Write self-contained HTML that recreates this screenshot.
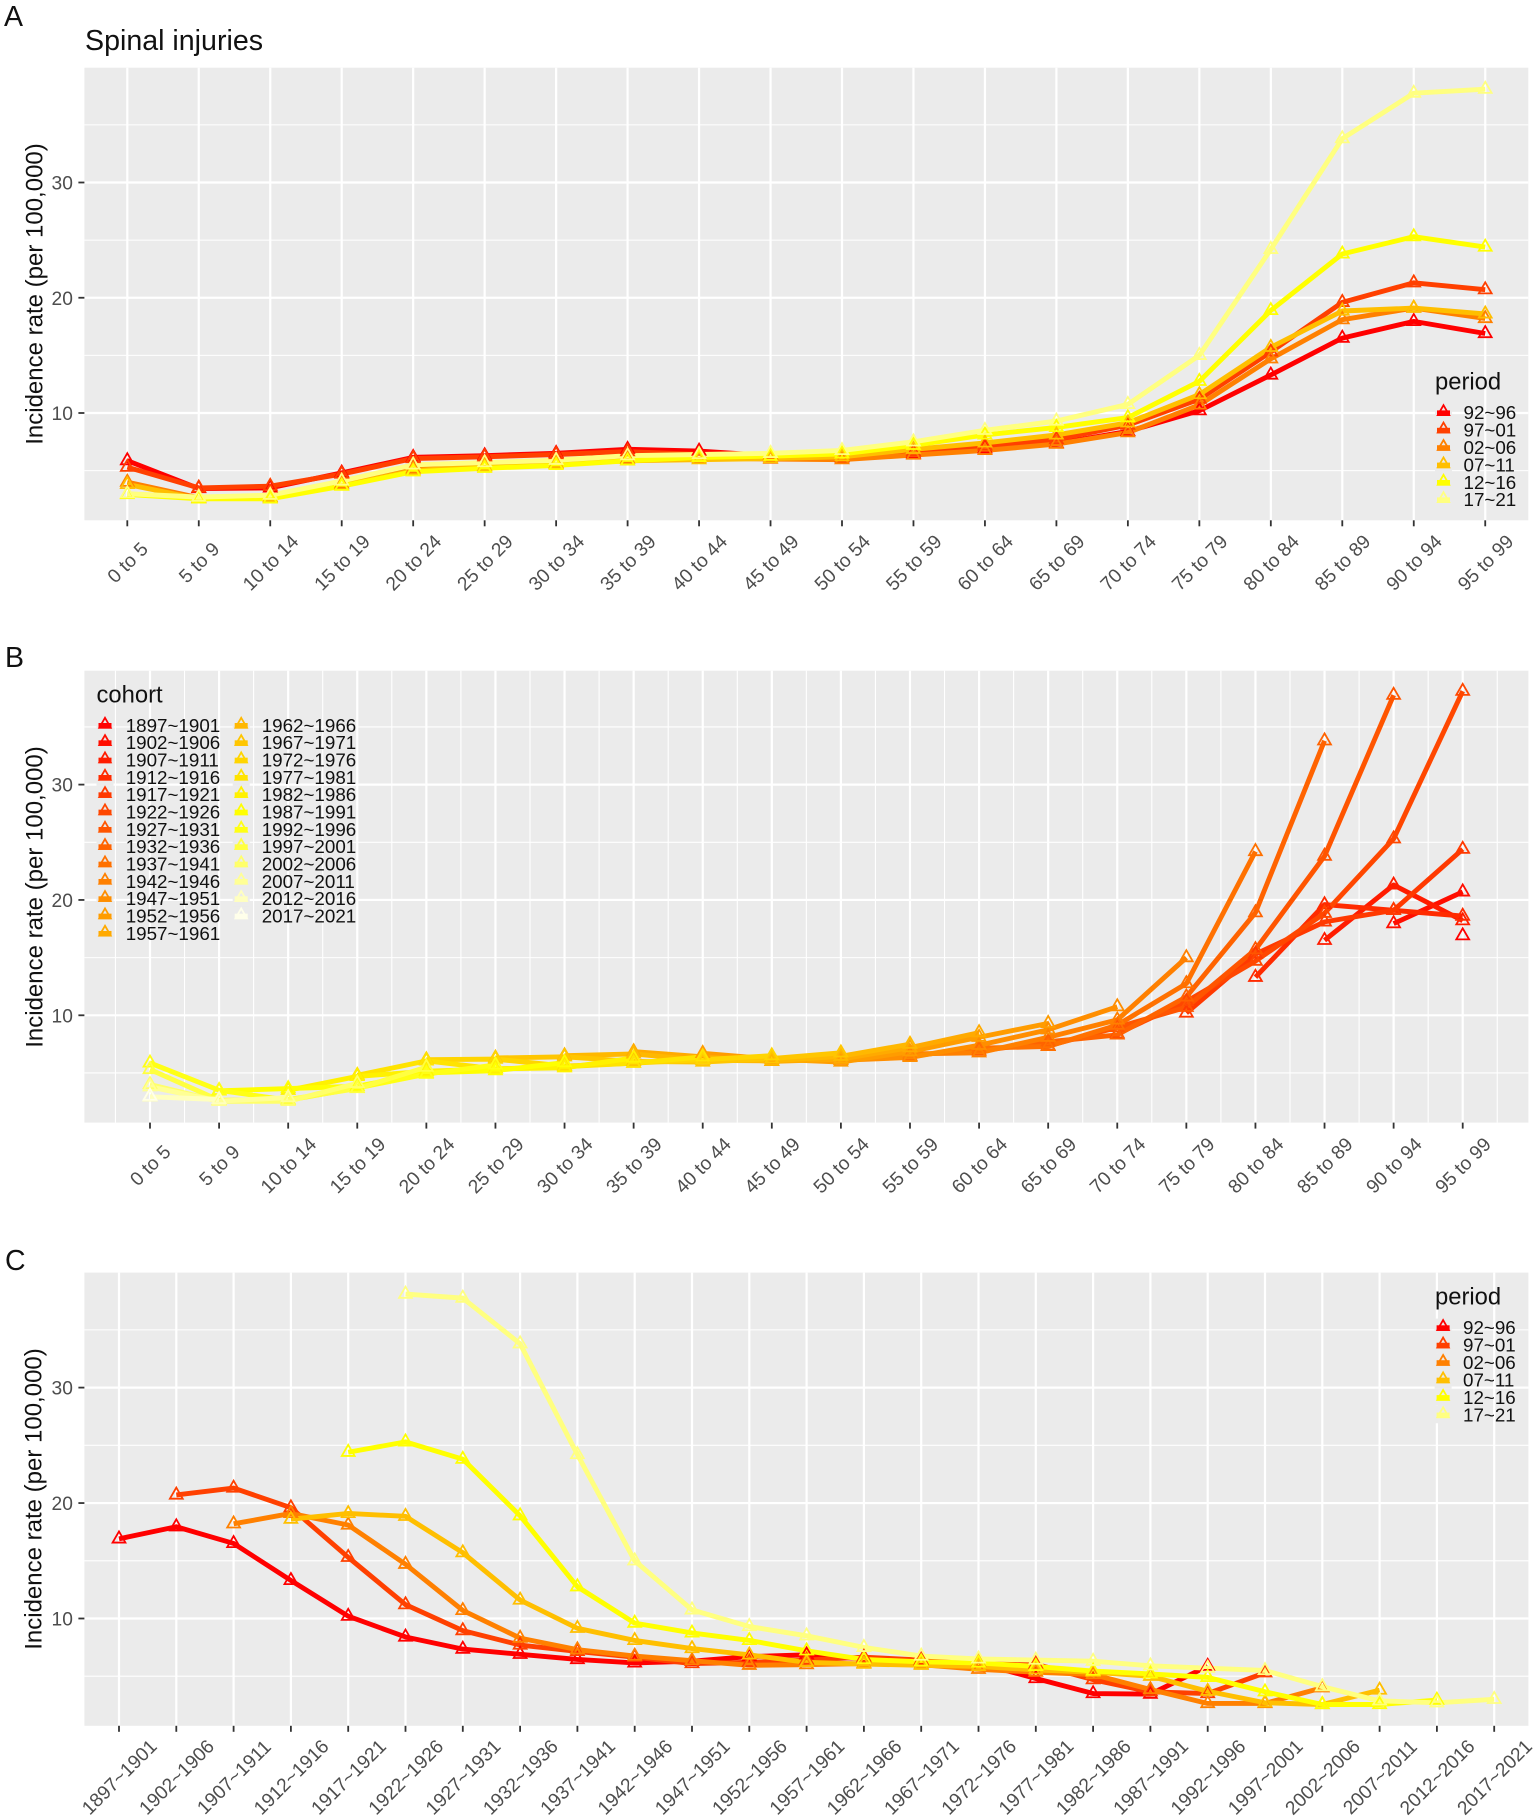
<!DOCTYPE html>
<html lang="en">
<head>
<meta charset="utf-8">
<title>Spinal injuries incidence rate</title>
<style>
html,body{margin:0;padding:0;background:#fff;width:1535px;height:1820px;overflow:hidden}
svg{display:block}
text{font-family:"Liberation Sans",Arial,sans-serif}
</style>
</head>
<body>
<svg id="figure" xmlns="http://www.w3.org/2000/svg" width="1535" height="1820" viewBox="0 0 1535 1820">
  <rect x="0" y="0" width="1535" height="1820" fill="#fff"/>
  <g id="panel-a"></g>
  <g id="panel-b"></g>
  <g id="panel-c"></g>
  <text x="4" y="26" font-size="28.5" fill="#111">A</text>
  <text x="5" y="667" font-size="28.5" fill="#111">B</text>
  <text x="5" y="1270" font-size="28.5" fill="#111">C</text>
  <text x="85" y="50" font-size="28.6" fill="#111">Spinal injuries</text>
  <text transform="translate(42.7,294) rotate(-90)" text-anchor="middle" font-size="24" fill="#111">Incidence rate (per 100,000)</text>
  <text transform="translate(42.7,897) rotate(-90)" text-anchor="middle" font-size="24" fill="#111">Incidence rate (per 100,000)</text>
  <text transform="translate(41.7,1499) rotate(-90)" text-anchor="middle" font-size="24" fill="#111">Incidence rate (per 100,000)</text>
  <text x="1435" y="389.5" font-size="23.8" fill="#111">period</text>
  <text x="96.5" y="702.5" font-size="23.8" fill="#111">cohort</text>
  <text x="1435" y="1304.7" font-size="23.8" fill="#111">period</text>
</svg>
<script>
// ---- Data (incidence rate per 100,000) ----
const ageGroups = ["0 to 5","5 to 9","10 to 14","15 to 19","20 to 24","25 to 29","30 to 34","35 to 39","40 to 44","45 to 49","50 to 54","55 to 59","60 to 64","65 to 69","70 to 74","75 to 79","80 to 84","85 to 89","90 to 94","95 to 99"];
const cohortLabels = ["1897~1901","1902~1906","1907~1911","1912~1916","1917~1921","1922~1926","1927~1931","1932~1936","1937~1941","1942~1946","1947~1951","1952~1956","1957~1961","1962~1966","1967~1971","1972~1976","1977~1981","1982~1986","1987~1991","1992~1996","1997~2001","2002~2006","2007~2011","2012~2016","2017~2021"];
const periodLabels = ["92~96","97~01","02~06","07~11","12~16","17~21"];
const yTickLabels = [10,20,30];
const yMinorBreaks = [5,15,25,35];
const rates9296 = [5.87,3.45,3.5,4.8,6.15,6.3,6.5,6.85,6.7,6.3,6.15,6.45,6.9,7.35,8.4,10.2,13.3,16.5,17.95,16.9];
const rates9701 = [5.3,3.5,3.65,4.7,6.05,6.2,6.4,6.65,6.4,6.2,6.1,6.65,7.15,7.7,8.95,11.2,15.3,19.6,21.3,20.7];
const rates0206 = [4.0,2.64,2.64,3.85,5.15,5.35,5.6,6.0,6.1,6.0,5.95,6.35,6.75,7.3,8.3,10.7,14.7,18.1,19.1,18.2];
const rates0711 = [3.8,2.55,2.7,3.7,5.0,5.35,5.55,5.85,5.95,6.05,6.2,6.85,7.4,8.1,9.15,11.6,15.7,18.85,19.1,18.6];
const rates1216 = [2.93,2.55,2.55,3.65,4.9,5.2,5.45,5.85,6.15,6.25,6.45,7.2,8.1,8.75,9.6,12.75,18.9,23.8,25.3,24.4];
const rates1721 = [3.0,2.7,2.87,4.1,5.5,5.7,5.9,6.3,6.4,6.5,6.75,7.5,8.5,9.3,10.75,15.0,24.2,33.8,37.75,38.1];

const periodSeries = [rates9296,rates9701,rates0206,rates0711,rates1216,rates1721];
const periodColors = ["#FF0000","#FF4000","#FF8000","#FFBF00","#FFFF00","#FFFF80"];

// heat.colors(25) ramp for the cohorts
function cohortColor(i){
  const hex = v => Math.round(v).toString(16).padStart(2,'0').toUpperCase();
  if(i < 19) return '#FF' + hex(255*i/18) + '00';
  const sat = 11/12 - (i-19)*(10/12)/5;
  return '#FFFF' + hex(255*(1-sat));
}

const NS = 'http://www.w3.org/2000/svg';
function mk(tag, attrs, parent){
  const el = document.createElementNS(NS, tag);
  for(const k in attrs) el.setAttribute(k, attrs[k]);
  parent.appendChild(el);
  return el;
}
function slug(s){ return String(s).replace(/[^0-9a-zA-Z]+/g,'-'); }

const LINE_W = 4.9, TRI_R = 7.4, TRI_SW = 1.8;

function trianglePoints(x,y,r){
  const h = r*Math.sqrt(3)/2;
  return [[x,y-r],[x+h,y+r/2],[x-h,y+r/2]].map(p=>p[0].toFixed(2)+','+p[1].toFixed(2)).join(' ');
}

function makeAxes(cfg){
  const k = (cfg.y10-cfg.y30)/20;
  cfg.xScale = i => cfg.x0 + i*cfg.dx;
  cfg.yScale = v => cfg.y10 - (v-10)*k;
  return cfg;
}

function drawFrame(cfg, root, categories){
  const bg = mk('rect',{x:cfg.left,y:cfg.top,width:cfg.right-cfg.left,height:cfg.bottom-cfg.top,fill:'#EBEBEB'},root);
  
  
  yMinorBreaks.forEach(v=>{
    const g = mk('line',{x1:cfg.left,x2:cfg.right,y1:cfg.yScale(v),y2:cfg.yScale(v),stroke:'#fff','stroke-width':1.1},root);
    
    
  });
  if(cfg.minorX){
    for(let i=-0.5;i<categories.length;i++){
      const g = mk('line',{x1:cfg.xScale(i),x2:cfg.xScale(i),y1:cfg.top,y2:cfg.bottom,stroke:'#fff','stroke-width':1.1},root);
      
      
    }
  }
  yTickLabels.forEach(v=>{
    const y = cfg.yScale(v);
    const g = mk('line',{x1:cfg.left,x2:cfg.right,y1:y,y2:y,stroke:'#fff','stroke-width':2.2},root);
    
    
    const t = mk('line',{x1:cfg.left-6,x2:cfg.left,y1:y,y2:y,stroke:'#333','stroke-width':1.8},root);
    
    
    const lab = mk('text',{x:cfg.left-11.5,y:y+7,'text-anchor':'end','font-size':19.2,fill:'#4D4D4D'},root);
    lab.textContent = v;
    
    
  });
  categories.forEach((c,i)=>{
    const x = cfg.xScale(i);
    const g = mk('line',{x1:x,x2:x,y1:cfg.top,y2:cfg.bottom,stroke:'#fff','stroke-width':2.2},root);
    
    
    const t = mk('line',{x1:x,x2:x,y1:cfg.bottom,y2:cfg.bottom+6,stroke:'#333','stroke-width':1.8},root);
    
    
    const lab = mk('text',{transform:'translate('+x.toFixed(2)+','+(cfg.bottom+cfg.labelDy)+') rotate(-45)','text-anchor':'middle','font-size':19.2,fill:'#4D4D4D',dy:'.36em'},root);
    lab.textContent = c;
    
    
  });
}

// seriesList: [{name,color,pts:[[catIndex,value],...]}]
function drawSeries(cfg, root, seriesList){
  seriesList.forEach(s=>{
    if(s.pts.length<2) return;
    const d = s.pts.map(p=>cfg.xScale(p[0]).toFixed(2)+','+cfg.yScale(p[1]).toFixed(2)).join(' ');
    const l = mk('polyline',{points:d,fill:'none',stroke:s.color,'stroke-width':LINE_W,'stroke-linejoin':'round'},root);
    
    
  });
  seriesList.forEach(s=>{
    s.pts.forEach(p=>{
      const m = mk('polygon',{points:trianglePoints(cfg.xScale(p[0]),cfg.yScale(p[1]),TRI_R),fill:'none',stroke:s.color,'stroke-width':TRI_SW},root);
      
      
    });
  });
}

function drawLegendEntry(root, label, color, keyX, textX, y, name){
  const box = mk('rect',{x:keyX-2,y:y-8.7,width:17,height:17.4,fill:'#EBEBEB'},root);
  
  
  const bar = mk('line',{x1:keyX,x2:keyX+13,y1:y+.8,y2:y+.8,stroke:color,'stroke-width':5.6},root);
  
  
  const tri = mk('polygon',{points:trianglePoints(keyX+6.5,y-.6,6.6),fill:'none',stroke:color,'stroke-width':TRI_SW},root);
  
  
  const t = mk('text',{x:textX,y:y+6.8,'font-size':18.8,fill:'#111'},root);
  t.textContent = label;
  
  
}

const panelA = makeAxes({left:84.4,right:1528.3,top:67.7,bottom:520.3,y10:413,y30:182.5,x0:127.3,dx:71.47,labelDy:42,minorX:false});
const panelB = makeAxes({left:84.4,right:1528.4,top:670.7,bottom:1122.6,y10:1015.3,y30:784.6,x0:150,dx:69.09,labelDy:42.5,minorX:true});
const panelC = makeAxes({left:84.4,right:1528.4,top:1272.6,bottom:1725.8,y10:1618.5,y30:1387.6,x0:119,dx:57.3,labelDy:51,minorX:false});

// Panel A: rate by age, one line per period
const rootA = document.getElementById('panel-a');
drawFrame(panelA, rootA, ageGroups);
drawSeries(panelA, rootA, periodSeries.map((vals,p)=>({
  name:'period-'+periodLabels[p], color:periodColors[p], pts:vals.map((v,a)=>[a,v])
})));
periodLabels.forEach((lab,p)=>{
  drawLegendEntry(rootA, lab, periodColors[p], 1437, 1463.5, 412.4+p*17.4, 'a-'+lab);
});

// Panel B: rate by age, one line per birth cohort
const rootB = document.getElementById('panel-b');
drawFrame(panelB, rootB, ageGroups);
const cohortSeries = cohortLabels.map((lab,c)=>{
  const pts = [];
  periodSeries.forEach((vals,p)=>{
    const a = ageGroups.length-1-c+p;
    if(a>=0 && a<ageGroups.length) pts.push([a,vals[a]]);
  });
  return {name:'cohort-'+lab, color:cohortColor(c), pts:pts};
});
drawSeries(panelB, rootB, cohortSeries);
cohortLabels.forEach((lab,c)=>{
  const col = c<13 ? 0 : 1;
  const row = c<13 ? c : c-13;
  drawLegendEntry(rootB, lab, cohortColor(c), col?234.7:98.5, col?261.7:125.7, 725+row*17.33, 'b-'+lab);
});

// Panel C: rate by birth cohort, one line per period
const rootC = document.getElementById('panel-c');
drawFrame(panelC, rootC, cohortLabels);
drawSeries(panelC, rootC, periodSeries.map((vals,p)=>{
  const pts = [];
  for(let a=vals.length-1;a>=0;a--) pts.push([ageGroups.length-1-a+p, vals[a]]);
  return {name:'period-'+periodLabels[p], color:periodColors[p], pts:pts};
}));
periodLabels.forEach((lab,p)=>{
  drawLegendEntry(rootC, lab, periodColors[p], 1436.6, 1463, 1327.3+p*17.45, 'c-'+lab);
});
</script>
</body>
</html>
